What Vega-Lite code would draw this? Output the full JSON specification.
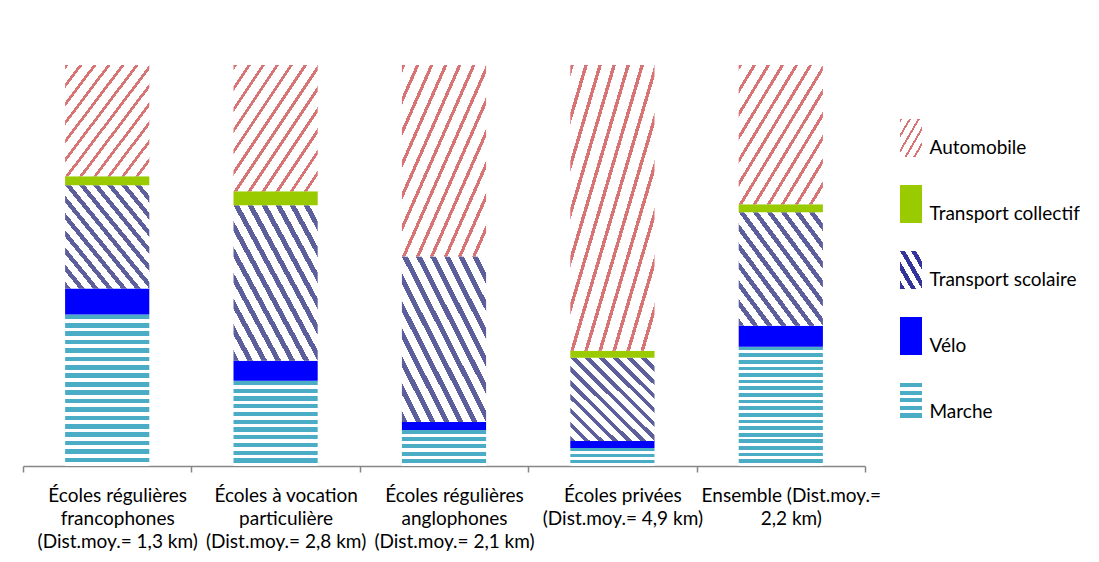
{
  "$schema": "https://vega.github.io/schema/vega-lite/v6.json",
  "autosize": {"type": "pad"},
  "padding": {"left": 22, "top": 65, "right": 5, "bottom": 5},
  "background": "white",
  "config": {"view": {"stroke": null}, "font": "Lato"},
  "spacing": 35,
  "bounds": "flush",
  "data": {
    "values": [
      {"ecole": "Écoles régulières\nfrancophones\n(Dist.moy.= 1,3 km)", "mode": "Marche", "ordre": 1, "part": 37.75},
      {"ecole": "Écoles régulières\nfrancophones\n(Dist.moy.= 1,3 km)", "mode": "Vélo", "ordre": 2, "part": 6.5},
      {"ecole": "Écoles régulières\nfrancophones\n(Dist.moy.= 1,3 km)", "mode": "Transport scolaire", "ordre": 3, "part": 25.75},
      {"ecole": "Écoles régulières\nfrancophones\n(Dist.moy.= 1,3 km)", "mode": "Transport collectif", "ordre": 4, "part": 2.25},
      {"ecole": "Écoles régulières\nfrancophones\n(Dist.moy.= 1,3 km)", "mode": "Automobile", "ordre": 5, "part": 27.75},
      {"ecole": "Écoles à vocation\nparticulière\n(Dist.moy.= 2,8 km)", "mode": "Marche", "ordre": 1, "part": 21.25},
      {"ecole": "Écoles à vocation\nparticulière\n(Dist.moy.= 2,8 km)", "mode": "Vélo", "ordre": 2, "part": 5},
      {"ecole": "Écoles à vocation\nparticulière\n(Dist.moy.= 2,8 km)", "mode": "Transport scolaire", "ordre": 3, "part": 38.75},
      {"ecole": "Écoles à vocation\nparticulière\n(Dist.moy.= 2,8 km)", "mode": "Transport collectif", "ordre": 4, "part": 3.5},
      {"ecole": "Écoles à vocation\nparticulière\n(Dist.moy.= 2,8 km)", "mode": "Automobile", "ordre": 5, "part": 31.5},
      {"ecole": "Écoles régulières\nanglophones\n(Dist.moy.= 2,1 km)", "mode": "Marche", "ordre": 1, "part": 9},
      {"ecole": "Écoles régulières\nanglophones\n(Dist.moy.= 2,1 km)", "mode": "Vélo", "ordre": 2, "part": 2},
      {"ecole": "Écoles régulières\nanglophones\n(Dist.moy.= 2,1 km)", "mode": "Transport scolaire", "ordre": 3, "part": 41.25},
      {"ecole": "Écoles régulières\nanglophones\n(Dist.moy.= 2,1 km)", "mode": "Transport collectif", "ordre": 4, "part": 0},
      {"ecole": "Écoles régulières\nanglophones\n(Dist.moy.= 2,1 km)", "mode": "Automobile", "ordre": 5, "part": 47.75},
      {"ecole": "Écoles privées\n(Dist.moy.= 4,9 km)", "mode": "Marche", "ordre": 1, "part": 4.5},
      {"ecole": "Écoles privées\n(Dist.moy.= 4,9 km)", "mode": "Vélo", "ordre": 2, "part": 1.75},
      {"ecole": "Écoles privées\n(Dist.moy.= 4,9 km)", "mode": "Transport scolaire", "ordre": 3, "part": 20.75},
      {"ecole": "Écoles privées\n(Dist.moy.= 4,9 km)", "mode": "Transport collectif", "ordre": 4, "part": 1.75},
      {"ecole": "Écoles privées\n(Dist.moy.= 4,9 km)", "mode": "Automobile", "ordre": 5, "part": 71.25},
      {"ecole": "Ensemble (Dist.moy.=\n2,2 km)", "mode": "Marche", "ordre": 1, "part": 29.75},
      {"ecole": "Ensemble (Dist.moy.=\n2,2 km)", "mode": "Vélo", "ordre": 2, "part": 5.25},
      {"ecole": "Ensemble (Dist.moy.=\n2,2 km)", "mode": "Transport scolaire", "ordre": 3, "part": 28.25},
      {"ecole": "Ensemble (Dist.moy.=\n2,2 km)", "mode": "Transport collectif", "ordre": 4, "part": 2},
      {"ecole": "Ensemble (Dist.moy.=\n2,2 km)", "mode": "Automobile", "ordre": 5, "part": 34.75}
    ]
  },
  "hconcat": [
    {
      "width": 842,
      "height": 401,
      "mark": {"type": "bar", "width": {"band": 0.5}},
      "encoding": {
        "x": {
          "field": "ecole",
          "type": "nominal",
          "sort": null,
          "scale": {"paddingInner": 0, "paddingOuter": 0},
          "axis": {
            "title": null,
            "labelAngle": 0,
            "labelExpr": "datum.value ? split(datum.value, '\\n') : ''",
            "labelFont": "Lato",
            "labelFontSize": 19,
            "labelColor": "#000000",
            "labelLineHeight": 23,
            "labelPadding": 14,
            "labelOffset": 10,
            "labelLimit": 0,
            "labelOverlap": false,
            "labelBaseline": "top",
            "domainColor": "#868686",
            "domainWidth": 1.5,
            "tickColor": "#868686",
            "tickSize": 6,
            "tickWidth": 1.5,
            "tickBand": "extent"
          }
        },
        "y": {
          "field": "part",
          "type": "quantitative",
          "stack": true,
          "scale": {"domain": [0, 100]},
          "axis": null
        },
        "order": {"field": "ordre", "type": "quantitative"},
        "detail": {"field": "mode", "type": "nominal"},
        "fill": {
          "condition": [
            {"test": "datum.mode === 'Marche' && (indexof(datum.ecole, 'francophones') >= 0 || indexof(datum.ecole, 'Ensemble') >= 0)", "value": {"gradient": "linear", "x1": 0, "y1": 0, "x2": 0, "y2": 1, "stops": [
              {"offset": 0, "color": "#4bacc6"}, {"offset": 0.0306, "color": "#4bacc6"}, {"offset": 0.0306, "color": "#ffffff"}, {"offset": 0.0556, "color": "#ffffff"},
              {"offset": 0.0556, "color": "#4bacc6"}, {"offset": 0.0861, "color": "#4bacc6"}, {"offset": 0.0861, "color": "#ffffff"}, {"offset": 0.1111, "color": "#ffffff"},
              {"offset": 0.1111, "color": "#4bacc6"}, {"offset": 0.1417, "color": "#4bacc6"}, {"offset": 0.1417, "color": "#ffffff"}, {"offset": 0.1667, "color": "#ffffff"},
              {"offset": 0.1667, "color": "#4bacc6"}, {"offset": 0.1972, "color": "#4bacc6"}, {"offset": 0.1972, "color": "#ffffff"}, {"offset": 0.2222, "color": "#ffffff"},
              {"offset": 0.2222, "color": "#4bacc6"}, {"offset": 0.2528, "color": "#4bacc6"}, {"offset": 0.2528, "color": "#ffffff"}, {"offset": 0.2778, "color": "#ffffff"},
              {"offset": 0.2778, "color": "#4bacc6"}, {"offset": 0.3083, "color": "#4bacc6"}, {"offset": 0.3083, "color": "#ffffff"}, {"offset": 0.3333, "color": "#ffffff"},
              {"offset": 0.3333, "color": "#4bacc6"}, {"offset": 0.3639, "color": "#4bacc6"}, {"offset": 0.3639, "color": "#ffffff"}, {"offset": 0.3889, "color": "#ffffff"},
              {"offset": 0.3889, "color": "#4bacc6"}, {"offset": 0.4194, "color": "#4bacc6"}, {"offset": 0.4194, "color": "#ffffff"}, {"offset": 0.4444, "color": "#ffffff"},
              {"offset": 0.4444, "color": "#4bacc6"}, {"offset": 0.475, "color": "#4bacc6"}, {"offset": 0.475, "color": "#ffffff"}, {"offset": 0.5, "color": "#ffffff"},
              {"offset": 0.5, "color": "#4bacc6"}, {"offset": 0.5306, "color": "#4bacc6"}, {"offset": 0.5306, "color": "#ffffff"}, {"offset": 0.5556, "color": "#ffffff"},
              {"offset": 0.5556, "color": "#4bacc6"}, {"offset": 0.5861, "color": "#4bacc6"}, {"offset": 0.5861, "color": "#ffffff"}, {"offset": 0.6111, "color": "#ffffff"},
              {"offset": 0.6111, "color": "#4bacc6"}, {"offset": 0.6417, "color": "#4bacc6"}, {"offset": 0.6417, "color": "#ffffff"}, {"offset": 0.6667, "color": "#ffffff"},
              {"offset": 0.6667, "color": "#4bacc6"}, {"offset": 0.6972, "color": "#4bacc6"}, {"offset": 0.6972, "color": "#ffffff"}, {"offset": 0.7222, "color": "#ffffff"},
              {"offset": 0.7222, "color": "#4bacc6"}, {"offset": 0.7528, "color": "#4bacc6"}, {"offset": 0.7528, "color": "#ffffff"}, {"offset": 0.7778, "color": "#ffffff"},
              {"offset": 0.7778, "color": "#4bacc6"}, {"offset": 0.8083, "color": "#4bacc6"}, {"offset": 0.8083, "color": "#ffffff"}, {"offset": 0.8333, "color": "#ffffff"},
              {"offset": 0.8333, "color": "#4bacc6"}, {"offset": 0.8639, "color": "#4bacc6"}, {"offset": 0.8639, "color": "#ffffff"}, {"offset": 0.8889, "color": "#ffffff"},
              {"offset": 0.8889, "color": "#4bacc6"}, {"offset": 0.9194, "color": "#4bacc6"}, {"offset": 0.9194, "color": "#ffffff"}, {"offset": 0.9444, "color": "#ffffff"},
              {"offset": 0.9444, "color": "#4bacc6"}, {"offset": 0.975, "color": "#4bacc6"}, {"offset": 0.975, "color": "#ffffff"}, {"offset": 1, "color": "#ffffff"}
            ]}},
            {"test": "datum.mode === 'Marche' && indexof(datum.ecole, 'particuli') >= 0", "value": {"gradient": "linear", "x1": 0, "y1": 0, "x2": 0, "y2": 1, "stops": [
              {"offset": 0, "color": "#4bacc6"}, {"offset": 0.05, "color": "#4bacc6"}, {"offset": 0.05, "color": "#ffffff"}, {"offset": 0.0909, "color": "#ffffff"},
              {"offset": 0.0909, "color": "#4bacc6"}, {"offset": 0.1409, "color": "#4bacc6"}, {"offset": 0.1409, "color": "#ffffff"}, {"offset": 0.1818, "color": "#ffffff"},
              {"offset": 0.1818, "color": "#4bacc6"}, {"offset": 0.2318, "color": "#4bacc6"}, {"offset": 0.2318, "color": "#ffffff"}, {"offset": 0.2727, "color": "#ffffff"},
              {"offset": 0.2727, "color": "#4bacc6"}, {"offset": 0.3227, "color": "#4bacc6"}, {"offset": 0.3227, "color": "#ffffff"}, {"offset": 0.3636, "color": "#ffffff"},
              {"offset": 0.3636, "color": "#4bacc6"}, {"offset": 0.4136, "color": "#4bacc6"}, {"offset": 0.4136, "color": "#ffffff"}, {"offset": 0.4545, "color": "#ffffff"},
              {"offset": 0.4545, "color": "#4bacc6"}, {"offset": 0.5045, "color": "#4bacc6"}, {"offset": 0.5045, "color": "#ffffff"}, {"offset": 0.5455, "color": "#ffffff"},
              {"offset": 0.5455, "color": "#4bacc6"}, {"offset": 0.5955, "color": "#4bacc6"}, {"offset": 0.5955, "color": "#ffffff"}, {"offset": 0.6364, "color": "#ffffff"},
              {"offset": 0.6364, "color": "#4bacc6"}, {"offset": 0.6864, "color": "#4bacc6"}, {"offset": 0.6864, "color": "#ffffff"}, {"offset": 0.7273, "color": "#ffffff"},
              {"offset": 0.7273, "color": "#4bacc6"}, {"offset": 0.7773, "color": "#4bacc6"}, {"offset": 0.7773, "color": "#ffffff"}, {"offset": 0.8182, "color": "#ffffff"},
              {"offset": 0.8182, "color": "#4bacc6"}, {"offset": 0.8682, "color": "#4bacc6"}, {"offset": 0.8682, "color": "#ffffff"}, {"offset": 0.9091, "color": "#ffffff"},
              {"offset": 0.9091, "color": "#4bacc6"}, {"offset": 0.9591, "color": "#4bacc6"}, {"offset": 0.9591, "color": "#ffffff"}, {"offset": 1, "color": "#ffffff"}
            ]}},
            {"test": "datum.mode === 'Marche' && indexof(datum.ecole, 'anglophones') >= 0", "value": {"gradient": "linear", "x1": 0, "y1": 0, "x2": 0, "y2": 1, "stops": [
              {"offset": 0, "color": "#4bacc6"}, {"offset": 0.11, "color": "#4bacc6"}, {"offset": 0.11, "color": "#ffffff"}, {"offset": 0.2, "color": "#ffffff"},
              {"offset": 0.2, "color": "#4bacc6"}, {"offset": 0.31, "color": "#4bacc6"}, {"offset": 0.31, "color": "#ffffff"}, {"offset": 0.4, "color": "#ffffff"},
              {"offset": 0.4, "color": "#4bacc6"}, {"offset": 0.51, "color": "#4bacc6"}, {"offset": 0.51, "color": "#ffffff"}, {"offset": 0.6, "color": "#ffffff"},
              {"offset": 0.6, "color": "#4bacc6"}, {"offset": 0.71, "color": "#4bacc6"}, {"offset": 0.71, "color": "#ffffff"}, {"offset": 0.8, "color": "#ffffff"},
              {"offset": 0.8, "color": "#4bacc6"}, {"offset": 0.91, "color": "#4bacc6"}, {"offset": 0.91, "color": "#ffffff"}, {"offset": 1, "color": "#ffffff"}
            ]}},
            {"test": "datum.mode === 'Marche'", "value": {"gradient": "linear", "x1": 0, "y1": 0, "x2": 0, "y2": 1, "stops": [
              {"offset": 0, "color": "#4bacc6"}, {"offset": 0.183, "color": "#4bacc6"}, {"offset": 0.183, "color": "#ffffff"}, {"offset": 0.333, "color": "#ffffff"},
              {"offset": 0.333, "color": "#4bacc6"}, {"offset": 0.517, "color": "#4bacc6"}, {"offset": 0.517, "color": "#ffffff"}, {"offset": 0.667, "color": "#ffffff"},
              {"offset": 0.667, "color": "#4bacc6"}, {"offset": 0.85, "color": "#4bacc6"}, {"offset": 0.85, "color": "#ffffff"}, {"offset": 1, "color": "#ffffff"}
            ]}},
            {"test": "datum.mode === 'Transport scolaire'", "value": {"gradient": "linear", "x1": 0, "y1": 1, "x2": 1, "y2": 0, "stops": [
              {"offset": 0, "color": "#5d5f9d"}, {"offset": 0.0333, "color": "#5d5f9d"}, {"offset": 0.0333, "color": "#ffffff"}, {"offset": 0.0833, "color": "#ffffff"},
              {"offset": 0.0833, "color": "#5d5f9d"}, {"offset": 0.1167, "color": "#5d5f9d"}, {"offset": 0.1167, "color": "#ffffff"}, {"offset": 0.1667, "color": "#ffffff"},
              {"offset": 0.1667, "color": "#5d5f9d"}, {"offset": 0.2, "color": "#5d5f9d"}, {"offset": 0.2, "color": "#ffffff"}, {"offset": 0.25, "color": "#ffffff"},
              {"offset": 0.25, "color": "#5d5f9d"}, {"offset": 0.2833, "color": "#5d5f9d"}, {"offset": 0.2833, "color": "#ffffff"}, {"offset": 0.3333, "color": "#ffffff"},
              {"offset": 0.3333, "color": "#5d5f9d"}, {"offset": 0.3667, "color": "#5d5f9d"}, {"offset": 0.3667, "color": "#ffffff"}, {"offset": 0.4167, "color": "#ffffff"},
              {"offset": 0.4167, "color": "#5d5f9d"}, {"offset": 0.45, "color": "#5d5f9d"}, {"offset": 0.45, "color": "#ffffff"}, {"offset": 0.5, "color": "#ffffff"},
              {"offset": 0.5, "color": "#5d5f9d"}, {"offset": 0.5333, "color": "#5d5f9d"}, {"offset": 0.5333, "color": "#ffffff"}, {"offset": 0.5833, "color": "#ffffff"},
              {"offset": 0.5833, "color": "#5d5f9d"}, {"offset": 0.6167, "color": "#5d5f9d"}, {"offset": 0.6167, "color": "#ffffff"}, {"offset": 0.6667, "color": "#ffffff"},
              {"offset": 0.6667, "color": "#5d5f9d"}, {"offset": 0.7, "color": "#5d5f9d"}, {"offset": 0.7, "color": "#ffffff"}, {"offset": 0.75, "color": "#ffffff"},
              {"offset": 0.75, "color": "#5d5f9d"}, {"offset": 0.7833, "color": "#5d5f9d"}, {"offset": 0.7833, "color": "#ffffff"}, {"offset": 0.8333, "color": "#ffffff"},
              {"offset": 0.8333, "color": "#5d5f9d"}, {"offset": 0.8667, "color": "#5d5f9d"}, {"offset": 0.8667, "color": "#ffffff"}, {"offset": 0.9167, "color": "#ffffff"},
              {"offset": 0.9167, "color": "#5d5f9d"}, {"offset": 0.95, "color": "#5d5f9d"}, {"offset": 0.95, "color": "#ffffff"}, {"offset": 1, "color": "#ffffff"}
            ]}},
            {"test": "datum.mode === 'Automobile'", "value": {"gradient": "linear", "x1": 0, "y1": 0, "x2": 1, "y2": 1, "stops": [
              {"offset": 0, "color": "#d87474"}, {"offset": 0.0208, "color": "#d87474"}, {"offset": 0.0208, "color": "#ffffff"}, {"offset": 0.0833, "color": "#ffffff"},
              {"offset": 0.0833, "color": "#d87474"}, {"offset": 0.1042, "color": "#d87474"}, {"offset": 0.1042, "color": "#ffffff"}, {"offset": 0.1667, "color": "#ffffff"},
              {"offset": 0.1667, "color": "#d87474"}, {"offset": 0.1875, "color": "#d87474"}, {"offset": 0.1875, "color": "#ffffff"}, {"offset": 0.25, "color": "#ffffff"},
              {"offset": 0.25, "color": "#d87474"}, {"offset": 0.2708, "color": "#d87474"}, {"offset": 0.2708, "color": "#ffffff"}, {"offset": 0.3333, "color": "#ffffff"},
              {"offset": 0.3333, "color": "#d87474"}, {"offset": 0.3542, "color": "#d87474"}, {"offset": 0.3542, "color": "#ffffff"}, {"offset": 0.4167, "color": "#ffffff"},
              {"offset": 0.4167, "color": "#d87474"}, {"offset": 0.4375, "color": "#d87474"}, {"offset": 0.4375, "color": "#ffffff"}, {"offset": 0.5, "color": "#ffffff"},
              {"offset": 0.5, "color": "#d87474"}, {"offset": 0.5208, "color": "#d87474"}, {"offset": 0.5208, "color": "#ffffff"}, {"offset": 0.5833, "color": "#ffffff"},
              {"offset": 0.5833, "color": "#d87474"}, {"offset": 0.6042, "color": "#d87474"}, {"offset": 0.6042, "color": "#ffffff"}, {"offset": 0.6667, "color": "#ffffff"},
              {"offset": 0.6667, "color": "#d87474"}, {"offset": 0.6875, "color": "#d87474"}, {"offset": 0.6875, "color": "#ffffff"}, {"offset": 0.75, "color": "#ffffff"},
              {"offset": 0.75, "color": "#d87474"}, {"offset": 0.7708, "color": "#d87474"}, {"offset": 0.7708, "color": "#ffffff"}, {"offset": 0.8333, "color": "#ffffff"},
              {"offset": 0.8333, "color": "#d87474"}, {"offset": 0.8542, "color": "#d87474"}, {"offset": 0.8542, "color": "#ffffff"}, {"offset": 0.9167, "color": "#ffffff"},
              {"offset": 0.9167, "color": "#d87474"}, {"offset": 0.9375, "color": "#d87474"}, {"offset": 0.9375, "color": "#ffffff"}, {"offset": 1, "color": "#ffffff"}
            ]}},
            {"test": "datum.mode === 'Vélo'", "value": "#0000ff"}
          ],
          "value": "#9acb00"
        }
      }
    },
    {
      "width": 22,
      "height": 410,
      "transform": [{"aggregate": [{"op": "count", "as": "n"}], "groupby": ["mode"]}],
      "mark": {"type": "bar", "height": {"band": 0.5758}},
      "encoding": {
        "y": {
          "field": "mode",
          "type": "nominal",
          "sort": ["Automobile", "Transport collectif", "Transport scolaire", "Vélo", "Marche"],
          "scale": {"paddingInner": 0, "paddingOuter": 0.606},
          "axis": {
            "orient": "right",
            "title": null,
            "domain": false,
            "ticks": false,
            "labelPadding": 7,
            "labelOffset": 10,
            "labelFont": "Lato",
            "labelFontSize": 19,
            "labelColor": "#000000",
            "labelLimit": 0,
            "labelExpr": "datum.value == 'Vélo' || datum.value == 'Marche' ? '\u00a0\u00a0' + datum.value : datum.value"
          }
        },
        "x": {"field": "n", "type": "quantitative", "scale": {"domain": [0, 5]}, "axis": null},
        "fill": {
          "condition": [
            {"test": "datum.mode === 'Automobile'", "value": {"gradient": "linear", "x1": 0, "y1": 0, "x2": 1, "y2": 1, "stops": [
              {"offset": 0, "color": "#d87474"}, {"offset": 0.05, "color": "#d87474"}, {"offset": 0.05, "color": "#ffffff"}, {"offset": 0.2, "color": "#ffffff"},
              {"offset": 0.2, "color": "#d87474"}, {"offset": 0.25, "color": "#d87474"}, {"offset": 0.25, "color": "#ffffff"}, {"offset": 0.4, "color": "#ffffff"},
              {"offset": 0.4, "color": "#d87474"}, {"offset": 0.45, "color": "#d87474"}, {"offset": 0.45, "color": "#ffffff"}, {"offset": 0.6, "color": "#ffffff"},
              {"offset": 0.6, "color": "#d87474"}, {"offset": 0.65, "color": "#d87474"}, {"offset": 0.65, "color": "#ffffff"}, {"offset": 0.8, "color": "#ffffff"},
              {"offset": 0.8, "color": "#d87474"}, {"offset": 0.85, "color": "#d87474"}, {"offset": 0.85, "color": "#ffffff"}, {"offset": 1, "color": "#ffffff"}
            ]}},
            {"test": "datum.mode === 'Transport scolaire'", "value": {"gradient": "linear", "x1": 0, "y1": 1, "x2": 1, "y2": 0, "stops": [
              {"offset": 0, "color": "#33359a"}, {"offset": 0.1125, "color": "#33359a"}, {"offset": 0.1125, "color": "#ffffff"}, {"offset": 0.25, "color": "#ffffff"},
              {"offset": 0.25, "color": "#33359a"}, {"offset": 0.3625, "color": "#33359a"}, {"offset": 0.3625, "color": "#ffffff"}, {"offset": 0.5, "color": "#ffffff"},
              {"offset": 0.5, "color": "#33359a"}, {"offset": 0.6125, "color": "#33359a"}, {"offset": 0.6125, "color": "#ffffff"}, {"offset": 0.75, "color": "#ffffff"},
              {"offset": 0.75, "color": "#33359a"}, {"offset": 0.8625, "color": "#33359a"}, {"offset": 0.8625, "color": "#ffffff"}, {"offset": 1, "color": "#ffffff"}
            ]}},
            {"test": "datum.mode === 'Marche'", "value": {"gradient": "linear", "x1": 0, "y1": 0, "x2": 0, "y2": 1, "stops": [
              {"offset": 0, "color": "#4bacc6"}, {"offset": 0.11, "color": "#4bacc6"}, {"offset": 0.11, "color": "#ffffff"}, {"offset": 0.2, "color": "#ffffff"},
              {"offset": 0.2, "color": "#4bacc6"}, {"offset": 0.31, "color": "#4bacc6"}, {"offset": 0.31, "color": "#ffffff"}, {"offset": 0.4, "color": "#ffffff"},
              {"offset": 0.4, "color": "#4bacc6"}, {"offset": 0.51, "color": "#4bacc6"}, {"offset": 0.51, "color": "#ffffff"}, {"offset": 0.6, "color": "#ffffff"},
              {"offset": 0.6, "color": "#4bacc6"}, {"offset": 0.71, "color": "#4bacc6"}, {"offset": 0.71, "color": "#ffffff"}, {"offset": 0.8, "color": "#ffffff"},
              {"offset": 0.8, "color": "#4bacc6"}, {"offset": 0.91, "color": "#4bacc6"}, {"offset": 0.91, "color": "#ffffff"}, {"offset": 1, "color": "#ffffff"}
            ]}},
            {"test": "datum.mode === 'Vélo'", "value": "#0000ff"}
          ],
          "value": "#9acb00"
        }
      }
    }
  ]
}
